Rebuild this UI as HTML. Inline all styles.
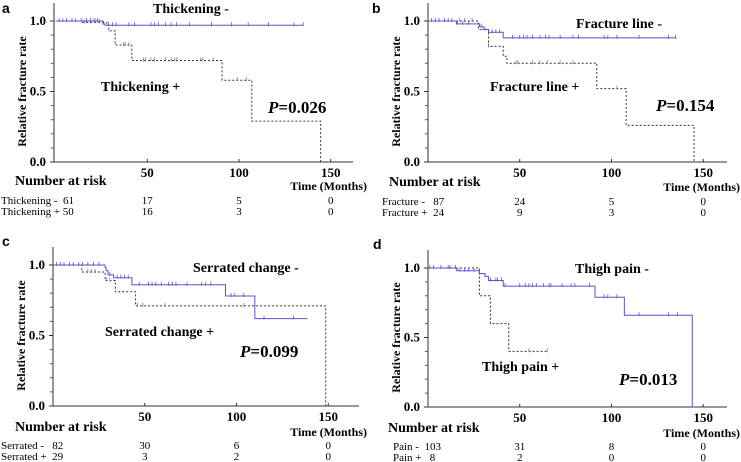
<!DOCTYPE html>
<html><head><meta charset="utf-8"><style>
body{margin:0;background:#fff;width:741px;height:462px;overflow:hidden}
svg{display:block}
</style></head><body>
<svg id="chart" width="741" height="462" xmlns="http://www.w3.org/2000/svg" font-family="Liberation Serif, serif"></svg>
<script>
// Panel a
const aNegT=[0,26,27,135], aNegS=[1,0.98,0.97,0.97];
const aPosT=[0,14,28,29,32.5,41.6,90.8,107,144.5], aPosS=[1,0.99,0.97,0.93,0.83,0.72,0.58,0.29,0];
const aNegC=[2,4,6,9,11,14,17,19,21,23,26,29,31,33,40,43,52,54,56,60,63,66,73,85,96,105,116,130,135];
const aPosC=[16,19,22,24,37,38,40,48,49,52,54,60,63,65,66,79,80,86,99,104];
// Panel b
const bNegT=[0,15.5,28,30,33,41,135], bNegS=[1,0.98,0.96,0.94,0.92,0.88,0.88];
const bPosT=[0,27.5,33,41,43,92,108,145], bPosS=[1,0.94,0.82,0.75,0.70,0.52,0.26,0];
const bNegC=[2,4,6,9,11,13,16,19,22,29,31,35,37,39,46,50,52,54,57,61,64,66,72,79,82,96,98,103,115,131,135];
const bPosC=[17,20,24,33,48,49,57,61,65,72,79,103];
// Panel c
const cNegT=[0,28.4,29,30,33,43,94,110,138.6], cNegS=[1,0.98,0.96,0.93,0.91,0.86,0.78,0.62,0.62];
const cPosT=[0,15.7,28.4,34,45,148.6], cPosS=[1,0.95,0.89,0.81,0.71,0];
const cNegC=[2,4,6,9,11,14,16,19,22,25,31,35,37,39,41,47,52,54,56,59,63,65,67,73,81,83,86,97,99,104,115,131];
const cPosC=[19,21,23,29,31,46,49,61,104];
// Panel d
const dNegT=[0,15.6,28,31,33,41,91,107,144], dNegS=[1,0.98,0.96,0.94,0.91,0.87,0.79,0.66,0];
const dPosT=[0,28,34,44,65], dPosS=[1,0.8,0.6,0.4,0.4];
const dNegC=[1,3,7,11,12,15,17,20,22,25,28,34,37,38,40,42,50,53,55,57,59,63,66,67,73,78,80,88,96,98,103,115,131,136];
const dPosC=[55,65];

const xTicks=[50,100,150], yTicks=[1.0,0.5,0.0], yMinor=[0.1,0.2,0.3,0.4,0.6,0.7,0.8,0.9];
const NS='http://www.w3.org/2000/svg';
const svg=document.getElementById('chart');
function el(tag,attrs,parent,txt){const e=document.createElementNS(NS,tag);for(const k in attrs)e.setAttribute(k,attrs[k]);if(txt!=null)e.textContent=txt;(parent||svg).appendChild(e);return e;}
const nb=s=>s.replace(/ /g,'\u00a0');

const panels=[
 {id:'a',ox:54,x0:55.5,top:21,bot:162,right:353,neg:[aNegT,aNegS,aNegC],pos:[aPosT,aPosS,aPosC],
  negLbl:['Thickening -',153,13],posLbl:['Thickening +',101,91],p:['0.026',268,113],
  rows:[['Thickening -  61','17','5','0'],['Thickening + 50','16','3','0']],rowY:[204,215],nar:[15,185],time:[367,190]},
 {id:'b',ox:428,x0:428,top:21,bot:162,right:727,neg:[bNegT,bNegS,bNegC],pos:[bPosT,bPosS,bPosC],
  negLbl:['Fracture line -',576,28],posLbl:['Fracture line +',490,91],p:['0.154',656,111],
  rows:[['Fracture -   87','24','5','0'],['Fracture +  24','9','3','0']],rowY:[205,216],nar:[389,186],time:[740,191]},
 {id:'c',ox:53,x0:53,top:265,bot:406,right:359,neg:[cNegT,cNegS,cNegC],pos:[cPosT,cPosS,cPosC],
  negLbl:['Serrated change -',193,272],posLbl:['Serrated change +',105,336],p:['0.099',240,357],
  rows:[['Serrated -   82','30','6','0'],['Serrated +  29','3','2','0']],rowY:[449,460],nar:[15,431],time:[367,436]},
 {id:'d',ox:428,x0:428,top:268,bot:407,right:727,neg:[dNegT,dNegS,dNegC],pos:[dPosT,dPosS,dPosC],
  negLbl:['Thigh pain -',575,273],posLbl:['Thigh pain +',482,371],p:['0.013',619,385],
  rows:[['Pain -  103','31','8','0'],['Pain +   8','2','0','0']],rowY:[450,461],nar:[388,432],time:[740,437]}
];
const labelPos={a:[2,13],b:[372,13],c:[2,246],d:[373,249]};

panels.forEach(P=>{
 const g=el('g',{}, svg);  
 const X=t=>P.x0+t*1.835, Y=s=>P.bot-s*(P.bot-P.top);
 const lp=labelPos[P.id];
 const pl=el('text',{x:lp[0],y:lp[1],'font-family':'Liberation Sans, sans-serif','font-weight':'bold','font-size':14},g,P.id);
  
 const ya=el('line',{x1:P.ox,y1:P.top-18,x2:P.ox,y2:P.bot,stroke:'#333','stroke-width':1},g);
  
 const xa=el('line',{x1:P.ox,y1:P.bot,x2:P.right,y2:P.bot,stroke:'#333','stroke-width':1},g);
  
 yTicks.forEach(v=>{
  el('line',{x1:P.ox-4,y1:Y(v),x2:P.ox,y2:Y(v),stroke:'#333'},g);
  const t=el('text',{x:P.ox-8,y:Y(v)+4,'text-anchor':'end','font-weight':'bold','font-size':13},g,v.toFixed(1));
   
 });
 yMinor.forEach(v=>el('line',{x1:P.ox-3,y1:Y(v),x2:P.ox,y2:Y(v),stroke:'#555'},g));
 xTicks.forEach(v=>{
  el('line',{x1:X(v),y1:P.bot,x2:X(v),y2:P.bot-3,stroke:'#333'},g);
  const t=el('text',{x:X(v),y:P.bot+15,'text-anchor':'middle','font-weight':'bold','font-size':13},g,String(v));
   
 });
 const yt=el('text',{transform:`translate(${P.ox-28},${(P.top+P.bot)/2}) rotate(-90)`,'text-anchor':'middle','font-weight':'bold','font-size':12},g,'Relative fracture rate');
  
 function curve(T,S,C,color,dash,name){
  let d=`M${X(T[0])},${Y(S[0])}`;
  for(let i=1;i<T.length;i++){d+=` H${X(T[i])} V${Y(S[i])}`;}
  const p=el('path',{d,fill:'none',stroke:color,'stroke-width':1,'stroke-dasharray':dash},g);
   
  C.forEach(c=>{
   let s=S[0];for(let i=0;i<T.length;i++){if(T[i]<=c)s=S[i];}
   const m=el('line',{x1:X(c),y1:Y(s)-3,x2:X(c),y2:Y(s)+1,stroke:dash?'#a060c0':color,'stroke-width':0.8},g);
    
  });
 }
 curve(P.pos[0],P.pos[1],P.pos[2],'#333','2,2','curve-positive');
 curve(P.neg[0],P.neg[1],P.neg[2],'#5555cc','', 'curve-negative');
 const n=el('text',{x:P.negLbl[1],y:P.negLbl[2],'font-weight':'bold','font-size':14},g,P.negLbl[0]);
  
 const q=el('text',{x:P.posLbl[1],y:P.posLbl[2],'font-weight':'bold','font-size':14},g,P.posLbl[0]);
  
 const pv=el('text',{x:P.p[1],y:P.p[2],'font-weight':'bold','font-size':17},g);
  
 el('tspan',{'font-style':'italic'},pv,'P');
 el('tspan',{},pv,'='+P.p[0]);
 const nr=el('text',{x:P.nar[0],y:P.nar[1],'font-weight':'bold','font-size':14},g,'Number at risk');
  
 const tm=el('text',{x:P.time[0],y:P.time[1],'text-anchor':'end','font-weight':'bold','font-size':12},g,'Time (Months)');
  
 P.rows.forEach((r,i)=>{
  const lx=P.id==='a'||P.id==='c'?1:(P.id==='b'?382:393);
  const rl=el('text',{x:lx,y:P.rowY[i],'font-size':11},g,nb(r[0]));
   
  for(let k=1;k<4;k++){
   const c=el('text',{x:X(xTicks[k-1]),y:P.rowY[i],'text-anchor':'middle','font-size':11},g,r[k]);
    
  }
 });
});
</script>
</body></html>
